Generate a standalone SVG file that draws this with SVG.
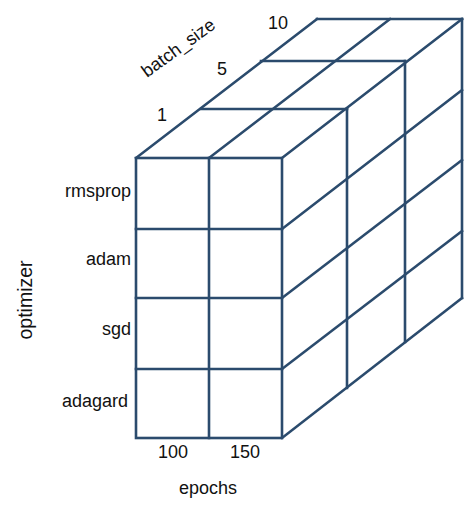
<svg xmlns="http://www.w3.org/2000/svg" width="476" height="507" viewBox="0 0 476 507">
<style>
.ln{stroke:#2b4b6d;stroke-width:2.6;fill:none;stroke-linecap:square}
.t{font-family:"Liberation Sans",Arial,sans-serif;font-size:18px;fill:#111}
</style>
<rect width="476" height="507" fill="#fff"/>
<g id="front-face" class="ln">
<rect x="136" y="158" width="146" height="280"/>
<line x1="209" y1="158" x2="209" y2="438"/>
<line x1="136" y1="229" x2="282" y2="229"/>
<line x1="136" y1="298" x2="282" y2="298"/>
<line x1="136" y1="369" x2="282" y2="369"/>
</g>
<g id="top-face" class="ln">
<line x1="136" y1="158" x2="317" y2="19"/>
<line x1="209" y1="158" x2="390" y2="19"/>
<line x1="282" y1="158" x2="462" y2="19"/>
<line x1="201" y1="109" x2="347" y2="109"/>
<line x1="261" y1="61" x2="405" y2="61"/>
<line x1="317" y1="19" x2="462" y2="19"/>
</g>
<g id="side-face" class="ln">
<line x1="347" y1="109" x2="347" y2="388"/>
<line x1="405" y1="61" x2="405" y2="342"/>
<line x1="462" y1="19" x2="462" y2="298"/>
<line x1="282" y1="229" x2="462" y2="90"/>
<line x1="282" y1="298" x2="462" y2="160"/>
<line x1="282" y1="369" x2="462" y2="231"/>
<line x1="282" y1="438" x2="462" y2="298"/>
</g>
<g id="labels" class="t">
<text x="131" y="197" text-anchor="end">rmsprop</text>
<text x="131" y="265" text-anchor="end">adam</text>
<text x="131" y="335" text-anchor="end">sgd</text>
<text x="128" y="407" text-anchor="end">adagard</text>
<text x="173" y="458" text-anchor="middle">100</text>
<text x="245" y="458" text-anchor="middle">150</text>
<text x="208" y="494" text-anchor="middle">epochs</text>
<text transform="translate(32,300) rotate(-90)" text-anchor="middle" style="font-size:19.5px">optimizer</text>
<text transform="translate(147,78) rotate(-36)">batch_size</text>
<text x="278" y="29" text-anchor="middle">10</text>
<text x="222" y="75" text-anchor="middle">5</text>
<text x="162" y="121" text-anchor="middle">1</text>
</g>
</svg>
